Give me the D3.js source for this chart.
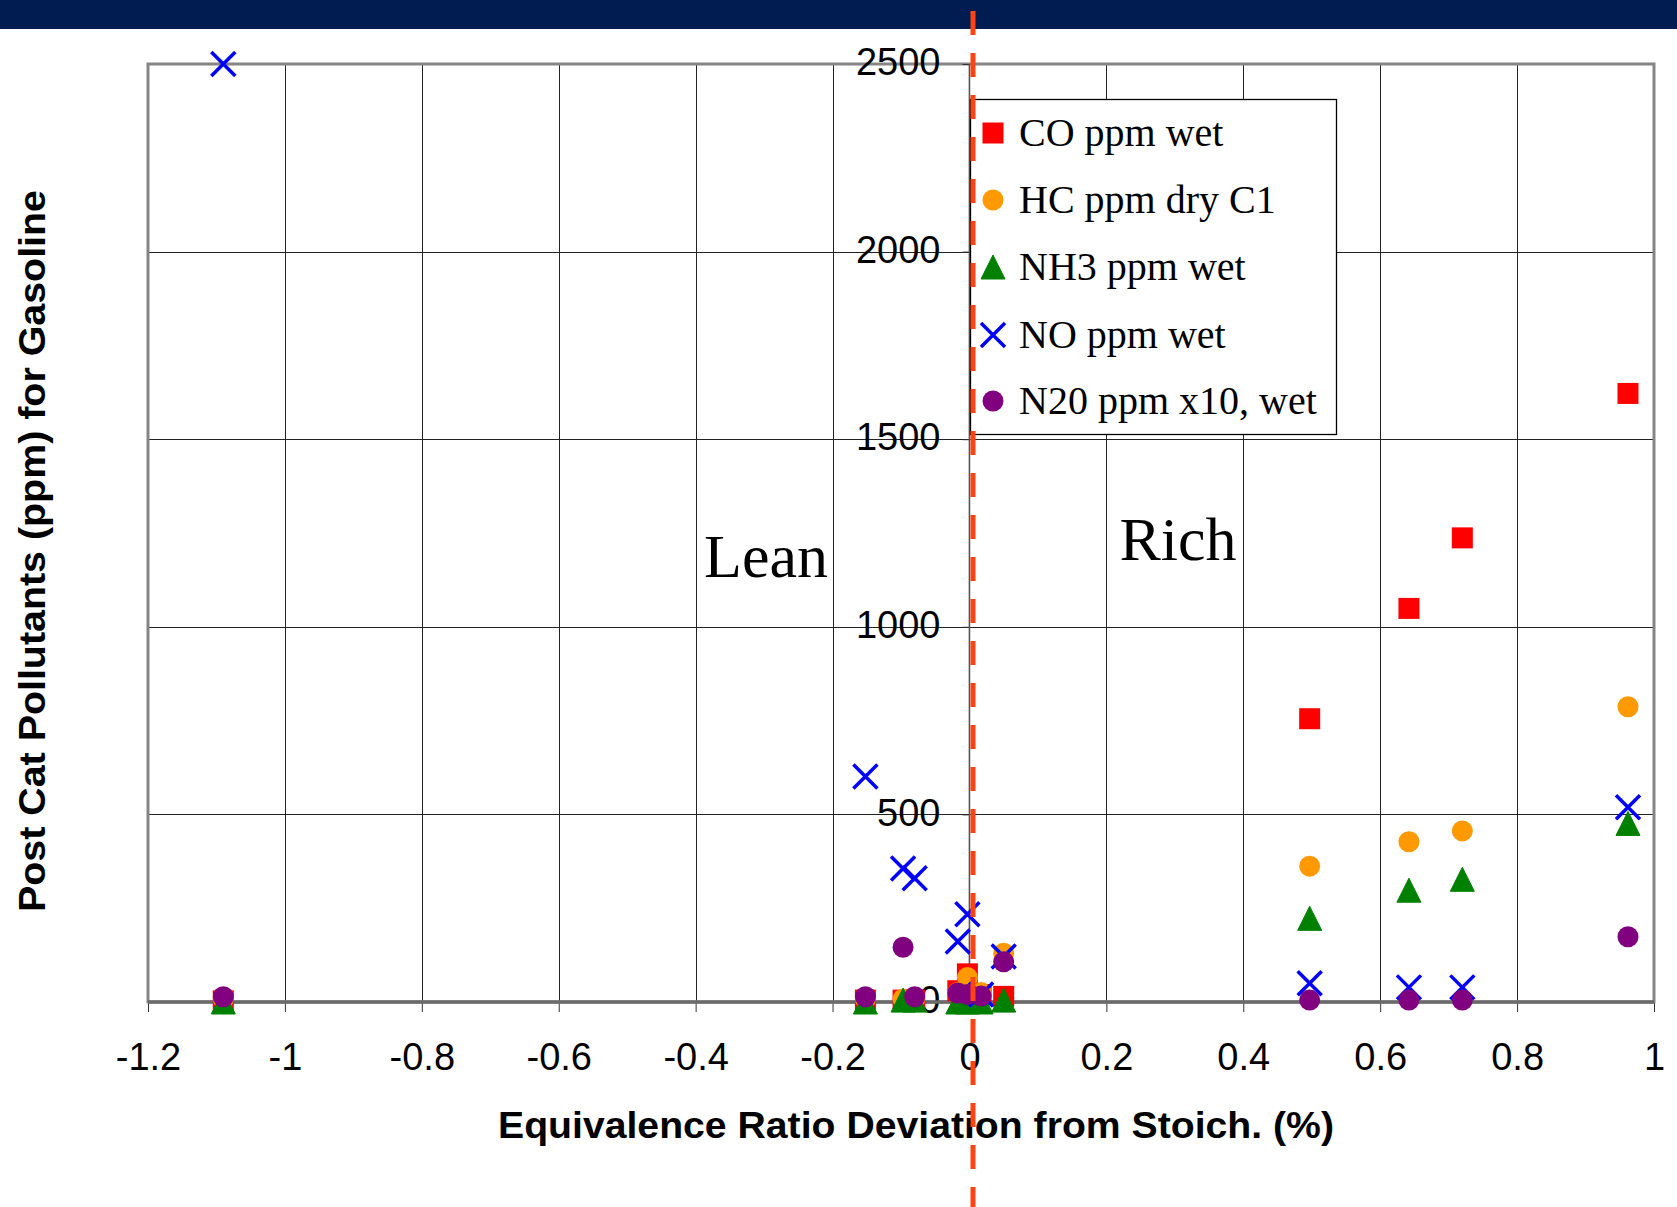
<!DOCTYPE html>
<html><head><meta charset="utf-8">
<script src="https://cdn.jsdelivr.net/npm/d3@7"></script>
<style>body{margin:0;background:#fff}svg{display:block}</style>
</head><body><svg id="c" width="1677" height="1207"></svg>
<script>
// ---- data ----
const xVals  = [-1.09, -0.152, -0.097, -0.08, -0.017, -0.003, 0.017, 0.05, 0.497, 0.642, 0.72, 0.962];
const coVals = [3, 5, 5, 5, 30, 75, 20, 15, 755, 1049, 1237, 1622];
const hcVals = [8, 8, 8, 8, 25, 65, 25, 130, 362, 427, 456, 787];
const nh3Vals = [0, 0, 5, 5, 0, 0, 0, 5, 223, 298, 327, 476];
const noVals = [2500, 601, 356, 330, 161, 234, 20, 121, 50, 39, 39, 519];
const n2oVals = [14, 14, 146, 14, 24, 20, 16, 107, 5, 5, 5, 174];
const seriesNames = ["CO ppm wet", "HC ppm dry C1", "NH3 ppm wet", "NO ppm wet", "N20 ppm x10, wet"];
const xTicks = [-1.2, -1, -0.8, -0.6, -0.4, -0.2, 0, 0.2, 0.4, 0.6, 0.8, 1];
const yTicks = [0, 500, 1000, 1500, 2000, 2500];

const series = [
  {name: seriesNames[0], vals: coVals, color: "#ff0000", shape: "square"},
  {name: seriesNames[1], vals: hcVals, color: "#ff9900", shape: "circle"},
  {name: seriesNames[2], vals: nh3Vals, color: "#008000", shape: "triangle"},
  {name: seriesNames[3], vals: noVals, color: "#0000ff", shape: "x"},
  {name: seriesNames[4], vals: n2oVals, color: "#800080", shape: "circle"}
];

const svg = d3.select("#c");
const L = 148, R = 1654, T = 64, B = 1002;
const x = d3.scaleLinear().domain([-1.2, 1]).range([L, R]);
const y = d3.scaleLinear().domain([0, 2500]).range([B, T]);

// header band
svg.append("rect").attr("x", 0).attr("y", 0).attr("width", 1677).attr("height", 29).attr("fill", "#011c51");

// gridlines
svg.append("g").selectAll("line").data(xTicks.filter(d => d > -1.2 && d < 1 && d !== 0)).join("line")
  .attr("x1", d => Math.round(x(d)) + 0.5).attr("x2", d => Math.round(x(d)) + 0.5)
  .attr("y1", T).attr("y2", B).attr("stroke", "#222").attr("stroke-width", 1);
svg.append("g").selectAll("line").data(yTicks.filter(d => d > 0 && d < 2500)).join("line")
  .attr("x1", L).attr("x2", R)
  .attr("y1", d => Math.round(y(d)) + 0.5).attr("y2", d => Math.round(y(d)) + 0.5)
  .attr("stroke", "#222").attr("stroke-width", 1);

// x axis ticks + labels
const xAxis = d3.axisBottom(x).tickValues(xTicks).tickSize(10).tickPadding(31)
  .tickFormat(d => String(Math.round(d * 10) / 10));
const gx = svg.append("g").attr("transform", `translate(0,${B})`).call(xAxis);
gx.select(".domain").remove();
gx.selectAll(".tick line").attr("stroke", "#333");
gx.selectAll("text").attr("font-family", "Liberation Sans, Arial, sans-serif").attr("font-size", 38).attr("fill", "#000");

// plot border
svg.append("rect").attr("x", L).attr("y", T).attr("width", R - L).attr("height", B - T)
  .attr("fill", "none").attr("stroke", "#858585").attr("stroke-width", 3);

// y axis at x=0
const yAxis = d3.axisLeft(y).tickValues(yTicks).tickSize(7).tickPadding(22).tickFormat(d => String(d));
const gy = svg.append("g").attr("transform", `translate(${x(0)},0)`).call(yAxis);
gy.select(".domain").remove();
gy.selectAll(".tick line").attr("stroke", "#333");
gy.selectAll("text").attr("font-family", "Liberation Sans, Arial, sans-serif").attr("font-size", 38)
  .attr("fill", "#000").attr("dy", "0.28em");
svg.append("line").attr("x1", x(0)).attr("x2", x(0)).attr("y1", T).attr("y2", B)
  .attr("stroke", "#555").attr("stroke-width", 1.6);
// x axis line
svg.append("line").attr("x1", L).attr("x2", R).attr("y1", B).attr("y2", B)
  .attr("stroke", "#6a6a6a").attr("stroke-width", 3.5);

// Lean / Rich
svg.append("text").attr("x", 766).attr("y", 577).attr("text-anchor", "middle")
  .attr("font-family", "Liberation Serif, Times New Roman, serif").attr("font-size", 62).text("Lean");
svg.append("text").attr("x", 1178).attr("y", 560).attr("text-anchor", "middle")
  .attr("font-family", "Liberation Serif, Times New Roman, serif").attr("font-size", 62).text("Rich");

// marker drawing
function drawMarker(g, shape, color) {
  if (shape === "square") {
    g.append("rect").attr("x", -10.5).attr("y", -10.5).attr("width", 21).attr("height", 21).attr("fill", color);
  } else if (shape === "circle") {
    g.append("circle").attr("r", 10.5).attr("fill", color);
  } else if (shape === "triangle") {
    g.append("path").attr("d", "M0,-12L12,12L-12,12Z").attr("fill", color)
      .attr("stroke", color).attr("stroke-width", 1).attr("stroke-linejoin", "round");
  } else if (shape === "x") {
    g.append("path").attr("d", "M-12,-12L12,12M12,-12L-12,12").attr("stroke", color)
      .attr("stroke-width", 3.5).attr("fill", "none");
  }
}

// points
series.forEach(s => {
  const g = svg.append("g");
  s.vals.forEach((v, i) => {
    const m = g.append("g").attr("transform", `translate(${x(xVals[i])},${y(v)})`);
    drawMarker(m, s.shape, s.color);
  });
});

// legend
const lg = svg.append("g");
lg.append("rect").attr("x", 970.5).attr("y", 99.5).attr("width", 366).attr("height", 335)
  .attr("fill", "#fff").attr("stroke", "#000").attr("stroke-width", 1.3);
const rowY = [133, 200, 267, 335, 401];
series.forEach((s, i) => {
  const m = lg.append("g").attr("transform", `translate(993,${rowY[i]})`);
  drawMarker(m, s.shape, s.color);
  lg.append("text").attr("x", 1019).attr("y", rowY[i]).attr("dy", "0.33em")
    .attr("font-family", "Liberation Serif, Times New Roman, serif").attr("font-size", 40)
    .attr("fill", "#000").text(s.name);
});

// axis titles
svg.append("text").attr("x", 916).attr("y", 1138).attr("text-anchor", "middle")
  .attr("font-family", "Liberation Sans, Arial, sans-serif").attr("font-weight", "bold").attr("font-size", 36)
  .attr("textLength", 836).attr("lengthAdjust", "spacingAndGlyphs")
  .text("Equivalence Ratio Deviation from Stoich. (%)");
svg.append("text").attr("transform", "translate(45,551) rotate(-90)").attr("text-anchor", "middle")
  .attr("font-family", "Liberation Sans, Arial, sans-serif").attr("font-weight", "bold").attr("font-size", 36)
  .attr("textLength", 722).attr("lengthAdjust", "spacingAndGlyphs")
  .text("Post Cat Pollutants (ppm) for Gasoline");

// stoichiometric dashed line
svg.append("line").attr("x1", 973).attr("x2", 973).attr("y1", 11).attr("y2", 1207)
  .attr("stroke", "#ff4412").attr("stroke-width", 5).attr("stroke-dasharray", "24,18");
</script></body></html>
